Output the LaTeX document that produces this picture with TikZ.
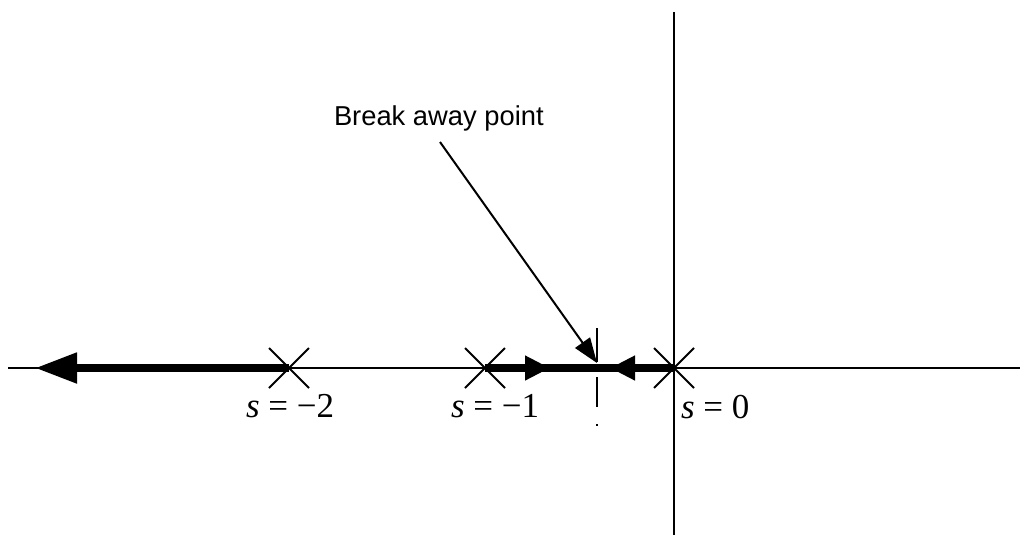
\documentclass[tikz,border=0pt]{standalone}
\usepackage{fontspec}
\newfontfamily\labelfont{Liberation Sans}
\newfontfamily\polefont{Liberation Serif}
\usetikzlibrary{arrows.meta,shapes.misc}
\begin{document}
\begin{tikzpicture}[x=0.3pt, y=-0.3pt, line width=0.6pt,
    pole/.style={draw, cross out, minimum size=11.4pt, inner sep=0pt},
    branch/.style={line width=2.4pt},
    bigtip/.style={-{Triangle[length=12.6pt, width=8.7pt]}},
    smalltip/.style={-{Triangle[length=7.5pt, width=7pt]}},
    pointer/.style={-{Triangle[length=7.5pt, width=5.4pt]}},
    polelabel/.style={anchor=base west, inner sep=0pt, font=\polefont\fontsize{10.5}{12}\selectfont}]
    \useasboundingbox (0,0) rectangle (1027,538);

    % Axes
    \coordinate (west) at (8,368);
    \coordinate (east) at (1020,368);
    \coordinate (north) at (674,12);
    \coordinate (south) at (674,535);
    \draw (west) -- (east);
    \draw (north) -- (south);

    % Poles
    \node[pole] (p2) at (289,368) {};
    \node[pole] (p1) at (485,368) {};
    \node[pole] (p0) at (674,368) {};

    % Root locus branches
    \coordinate (bk) at (597,368);
    \coordinate (far) at (35,368);
    \coordinate (m1) at (550,368);
    \coordinate (m0) at (610,368);
    \draw[branch, bigtip] (p2.center) -- (far);
    \draw[branch] (p1.center) -- (p0.center);
    \draw[branch, smalltip] (p1.center) -- (m1);
    \draw[branch, smalltip] (p0.center) -- (m0);

    % Break away marker
    \coordinate (bkup) at (597,328);
    \coordinate (bkdown) at (597,426);
    \draw[dash pattern=on 10.2pt off 4.5pt on 9pt off 5.1pt on 0.6pt] (bkup) -- (bkdown);

    % Labels
    \node[anchor=base west, inner sep=0pt, font=\labelfont\fontsize{8.2}{10}\selectfont] (bklabel) at (333,125) {Break away point};
    \coordinate (lstart) at (440,142);
    \coordinate (bktop) at (597,363);
    \draw[pointer] (lstart) -- (bktop);

    \node[polelabel] (l2) at (245,417) {\textit{s} = −2};
    \node[polelabel] (l1) at (450,417) {\textit{s} = −1};
    \node[polelabel] (l0) at (680,418) {\textit{s} = 0};
\end{tikzpicture}
\end{document}
